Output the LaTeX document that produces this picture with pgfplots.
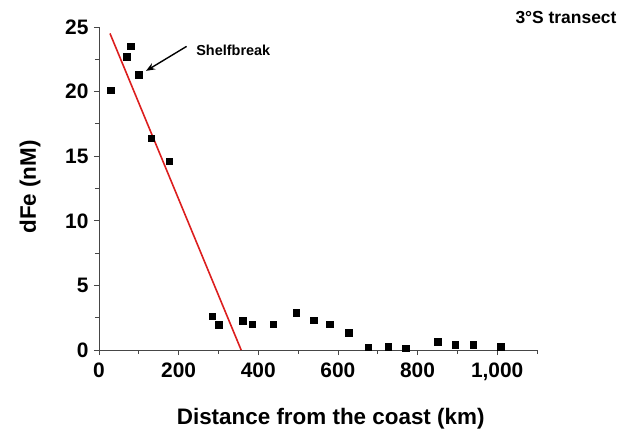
\documentclass[border=0pt]{standalone}
\usepackage{fontspec}
\setmainfont{Liberation Sans}
\usepackage{pgfplots}
\pgfplotsset{compat=1.18}
\usetikzlibrary{arrows.meta}
\definecolor{fitred}{RGB}{220,30,30}
\definecolor{axisgray}{RGB}{70,70,70}

\begin{document}
\begin{tikzpicture}
\path[use as bounding box] (0,0) rectangle (637bp,436bp);
\begin{axis}[
  scale only axis, at={(99bp,86bp)}, anchor=south west,
  width=438bp, height=323bp,
  xmin=0, xmax=1100, ymin=0, ymax=25,
  axis lines=left, axis line style={axisgray,line width=0.9pt,-},
  xtick={0,200,400,600,800,1000},
  xticklabels={0,200,400,600,800,{1,000}},
  minor xtick={100,300,500,700,900,1100},
  ytick={0,5,10,15,20,25},
  minor ytick={2.5,7.5,12.5,17.5,22.5},
  tick align=outside, tick style={axisgray,line width=0.8pt},
  major tick length=5bp, minor tick length=4bp,
  tick label style={font=\fontsize{21}{22}\selectfont\bfseries},
  /pgf/number format/assume math mode=true,
  xticklabel style={yshift=-4bp},
  yticklabel style={xshift=-2bp},
  label style={font=\fontsize{22.5}{24}\selectfont\bfseries},
  xlabel={Distance from the coast (km)},
  ylabel={dFe (nM)},
  xlabel style={at={(axis description cs:0.529,0)},anchor=center,yshift=-69bp},
  ylabel style={at={(axis description cs:0,0.505)},anchor=center,rotate=0,yshift=69bp},
  clip=false,
]
% linear fit over the shelf stations
\addplot[fitred,line width=1.6pt,mark=none] coordinates {(27.6,24.5) (357,0)};
\addplot[only marks,mark=square*,mark size=3.3pt,black] coordinates {
  (30,20.1) (69,22.7) (80,23.5) (100,21.3) (131,16.4) (176,14.6)
  (284,2.6) (301,1.97) (361,2.28) (385,2.0) (438,2.0) (495,2.87)
  (539,2.3) (579,2.0) (627,1.33) (676,0.23) (726,0.26) (770,0.15)
  (850,0.64) (895,0.41) (940,0.41) (1009,0.26)
};
\draw[-{Stealth[length=9bp,width=7bp]},line width=1.4pt,black]
  (axis cs:220,23.5) -- (axis cs:118,21.6);
\node[anchor=west,inner sep=0pt,font=\fontsize{14.5}{16}\selectfont\bfseries]
  at (axis cs:244,23.2) {Shelfbreak};
\end{axis}
\node[font=\fontsize{17.5}{19}\selectfont\bfseries,inner sep=0pt]
  at (566bp,418bp) {3°S transect};
\end{tikzpicture}
\end{document}
